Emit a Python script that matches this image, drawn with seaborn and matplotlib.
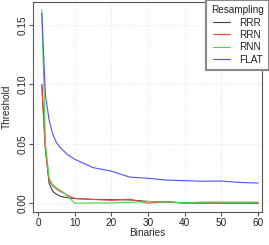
import matplotlib
matplotlib.use("Agg")
import matplotlib.pyplot as plt
import numpy as np
import pandas as pd
import seaborn as sns

# values
binaries = [1, 2, 3, 4, 5, 6, 7, 8, 9, 10, 15, 20, 25, 30, 35, 40, 45, 50, 55, 60]
rrr = [0.100, 0.045, 0.0168, 0.0100, 0.0075, 0.0060, 0.0052, 0.0047, 0.0043, 0.0040,
       0.0032, 0.0030, 0.0028, 0.0015, 0.0010, 0.0003, 0.0002, 0.0002, 0.0001, 0.0]
rrn = [0.099, 0.045, 0.0190, 0.0145, 0.0120, 0.0100, 0.0085, 0.0068, 0.0052, 0.0040,
       0.0032, 0.0025, 0.0034, 0.0000, 0.0015, 0.0000, 0.0003, 0.0002, 0.0002, 0.0002]
rnn = [0.163, 0.050, 0.0210, 0.0155, 0.0130, 0.0110, 0.0088, 0.0060, 0.0030, 0.0000,
       0.0002, 0.0003, 0.0008, 0.0015, 0.0012, 0.0003, 0.0010, 0.0010, 0.0010, 0.0010]
flat = [0.160, 0.091, 0.070, 0.058, 0.051, 0.047, 0.044, 0.041, 0.039, 0.037,
        0.030, 0.027, 0.022, 0.021, 0.0195, 0.019, 0.0185, 0.0187, 0.0175, 0.017]
methods = ["RRR", "RRN", "RNN", "FLAT"]
colors = ["#404040", "#ff4040", "#40dd40", "#5050ff"]

df = pd.DataFrame({"Binaries": binaries, "RRR": rrr, "RRN": rrn, "RNN": rnn, "FLAT": flat})
df = df.melt(id_vars="Binaries", var_name="Resampling", value_name="Threshold")

sns.set_style("ticks")
plt.rcParams["font.family"] = ["Liberation Sans", "DejaVu Sans"]

fig = plt.figure(figsize=(2.69, 2.45), dpi=100)
ax = fig.add_axes([0.124, 0.136, 0.849, 0.857])

sns.lineplot(data=df, x="Binaries", y="Threshold", hue="Resampling",
             hue_order=methods, palette=dict(zip(methods, colors)),
             linewidth=0.8, ax=ax)

ax.set_xlim(-1.3, 61)
ax.set_ylim(-0.0071, 0.1697)
ax.set_xticks([0, 10, 20, 30, 40, 50, 60])
ax.set_yticks([0.0, 0.05, 0.10, 0.15])
ax.set_yticklabels(["0.00", "0.05", "0.10", "0.15"])
ax.grid(True, color="#e4e4e4", linestyle=":", linewidth=0.8)
for s in ax.spines.values():
    s.set_color("#555555")
    s.set_linewidth(0.8)
ax.tick_params(axis="both", labelsize=7.2, length=3, width=0.8, color="#555555",
               labelcolor="#222222")
ax.tick_params(axis="x", pad=1.5)
ax.tick_params(axis="y", pad=1.0)
plt.setp(ax.get_yticklabels(), rotation=90, va="center")
ax.set_xlabel("Binaries", fontsize=7.2, labelpad=0.3)
ax.set_ylabel("Threshold", fontsize=7.2, labelpad=4.5)

handles, labels = ax.get_legend_handles_labels()
leg = ax.legend(handles, labels, title="Resampling", loc="upper right",
                bbox_to_anchor=(1.0, 1.0), bbox_transform=fig.transFigure,
                fontsize=7.2, title_fontsize=7.2, frameon=True, fancybox=False,
                framealpha=1, edgecolor="#888888", handlelength=1.75,
                handletextpad=0.9, labelspacing=0.25, borderpad=0.5,
                borderaxespad=0)
leg.get_frame().set_linewidth(1.5)
leg.get_title().set_color("#222222")
for t in leg.get_texts():
    t.set_color("#222222")

fig.savefig("out.png", dpi=100)
